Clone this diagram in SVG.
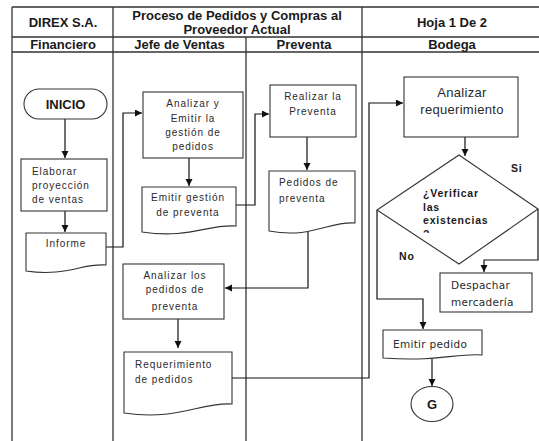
<svg xmlns="http://www.w3.org/2000/svg" width="539" height="441" viewBox="0 0 539 441">
<style>
.grid{stroke:#333;stroke-width:1.3;fill:none}
.box{fill:#fff;stroke:#333;stroke-width:1.1}
.conn{fill:none;stroke:#111;stroke-width:1.2}
.hdr{font-family:"Liberation Sans",Arial,sans-serif;font-size:13px;font-weight:bold;fill:#1a1a1a}
.t{font-family:"Liberation Sans",Arial,sans-serif;font-size:10px;letter-spacing:0.95px;fill:#2a2a2a}
.tc{text-anchor:middle}
.big{font-family:"Liberation Sans",Arial,sans-serif;font-size:13px;letter-spacing:0.3px;fill:#2a2a2a;text-anchor:middle}
.b{font-family:"Liberation Sans",Arial,sans-serif;font-size:10.5px;font-weight:bold;letter-spacing:0.8px;fill:#1a1a1a}
.v{font-family:"DejaVu Sans",Verdana,sans-serif;font-size:10.5px;letter-spacing:0.3px;fill:#2a2a2a}
</style>
<defs>
<marker id="ah" markerUnits="userSpaceOnUse" markerWidth="8" markerHeight="8" refX="7" refY="3.5" orient="auto">
<path d="M0,0 L7,3.5 L0,7 z" fill="#111"/>
</marker>
<clipPath id="qclip"><rect x="415" y="226" width="30" height="7"/></clipPath>
</defs>
<rect x="0" y="0" width="539" height="441" fill="#fff"/>
<g id="table">
<path class="grid" d="M12,7 H539 M12,37 H539 M12,52 H539 M12,7 V441 M113,7 V441 M246,37 V441 M362,7 V441"/>
<text class="hdr tc" x="63" y="27" text-anchor="middle">DIREX S.A.</text>
<text class="hdr" x="237" y="20" text-anchor="middle">Proceso de Pedidos y Compras al</text>
<text class="hdr" x="237" y="34" text-anchor="middle">Proveedor Actual</text>
<text class="hdr" x="452" y="27" text-anchor="middle">Hoja 1 De 2</text>
<text class="hdr" x="63" y="49" text-anchor="middle">Financiero</text>
<text class="hdr" x="179.5" y="49" text-anchor="middle">Jefe de Ventas</text>
<text class="hdr" x="304" y="49" text-anchor="middle">Preventa</text>
<text class="hdr" x="452" y="49" text-anchor="middle">Bodega</text>
</g>
<g id="connectors">
<path class="conn" d="M65,119 V158" marker-end="url(#ah)"/>
<path class="conn" d="M65,211 V232" marker-end="url(#ah)"/>
<path class="conn" d="M106,247 H123 V113 H142" marker-end="url(#ah)"/>
<path class="conn" d="M189,158 V186" marker-end="url(#ah)"/>
<path class="conn" d="M236,205 H255 V114 H269" marker-end="url(#ah)"/>
<path class="conn" d="M307,137 V170" marker-end="url(#ah)"/>
<path class="conn" d="M308,232 V288 H225" marker-end="url(#ah)"/>
<path class="conn" d="M178,319 V348" marker-end="url(#ah)"/>
<path class="conn" d="M232,378 H369 V103 H403" marker-end="url(#ah)"/>
<path class="conn" d="M465,137 V156" marker-end="url(#ah)"/>
<path class="conn" d="M538,209 V260 H484 V272" marker-end="url(#ah)"/>
<path class="conn" d="M377,210 V299 H423 V329" marker-end="url(#ah)"/>
<path class="conn" d="M432,359 V386" marker-end="url(#ah)"/>
<text class="b" x="511" y="172" letter-spacing="0">Si</text>
<text class="b" x="399" y="260" letter-spacing="0">No</text>
</g>
<g id="inicio">
<rect class="box" x="24" y="89" width="83" height="30" rx="15"/>
<text class="hdr" x="65.5" y="108.5" text-anchor="middle">INICIO</text>
</g>
<g id="elaborar">
<rect class="box" x="21" y="159" width="86" height="52"/>
<text class="t" x="32" y="174.5">Elaborar</text>
<text class="t" x="32" y="188.5">proyección</text>
<text class="t" x="32" y="202.5">de ventas</text>
</g>
<g id="informe">
<path class="box" d="M26,233 H106 V265 C82,263 66,277 26,271 Z"/>
<text class="t" x="66" y="247" text-anchor="middle">Informe</text>
</g>
<g id="analizar-emitir">
<rect class="box" x="143" y="92" width="100" height="66"/>
<text class="t" x="193" y="107" text-anchor="middle">Analizar y</text>
<text class="t" x="193" y="121.5" text-anchor="middle">Emitir la</text>
<text class="t" x="193" y="135.5" text-anchor="middle">gestión de</text>
<text class="t" x="193" y="149.5" text-anchor="middle">pedidos</text>
</g>
<g id="emitir-gestion">
<path class="box" d="M142,187 H236 V226 C208,224 189,239 142,232 Z"/>
<text class="t" x="188" y="201" text-anchor="middle">Emitir gestión</text>
<text class="t" x="188" y="215.5" text-anchor="middle">de preventa</text>
</g>
<g id="realizar-preventa">
<rect class="box" x="270" y="85" width="86" height="52"/>
<text class="t" x="313" y="100" text-anchor="middle">Realizar la</text>
<text class="t" x="313" y="115" text-anchor="middle">Preventa</text>
</g>
<g id="pedidos-preventa">
<path class="box" d="M269,171 H355 V223 C329,221 312,239 269,231 Z"/>
<text class="t" x="279" y="186">Pedidos de</text>
<text class="t" x="279" y="201.5">preventa</text>
</g>
<g id="analizar-pedidos">
<rect class="box" x="123" y="264" width="101" height="55"/>
<text class="t" x="175" y="278.5" text-anchor="middle">Analizar los</text>
<text class="t" x="175" y="293" text-anchor="middle">pedidos de</text>
<text class="t" x="175" y="310" text-anchor="middle">preventa</text>
</g>
<g id="requerimiento">
<path class="box" d="M124,352 H232 V404 C200,402 178,421 124,413 Z"/>
<text class="t" x="135" y="368">Requerimiento</text>
<text class="t" x="135" y="383">de pedidos</text>
</g>
<g id="analizar-requerimiento">
<rect class="box" x="404" y="77" width="114" height="60"/>
<text class="big" x="462" y="97">Analizar</text>
<text class="big" x="462" y="114">requerimiento</text>
</g>
<g id="verificar">
<path class="box" d="M459,155 L538,209 L459,264 L377,210 Z"/>
<text class="b" x="423" y="197">¿Verificar</text>
<text class="b" x="423" y="211">las</text>
<text class="b" x="423" y="224">existencias</text>
<text class="b" x="423" y="238" clip-path="url(#qclip)">?</text>
</g>
<g id="despachar">
<rect class="box" x="440" y="273" width="92" height="39"/>
<text class="v" x="451" y="289">Despachar</text>
<text class="v" x="451" y="306">mercadería</text>
</g>
<g id="emitir-pedido">
<path class="box" d="M383,330 H482 V355 C456,353 440,362 383,358 Z"/>
<text class="v" x="393" y="348" font-size="11" letter-spacing="0.2">Emitir pedido</text>
</g>
<g id="g-connector">
<ellipse class="box" cx="432" cy="404" rx="21" ry="17.5"/>
<text class="hdr" x="432" y="408.5" text-anchor="middle" font-size="12">G</text>
</g>
</svg>
